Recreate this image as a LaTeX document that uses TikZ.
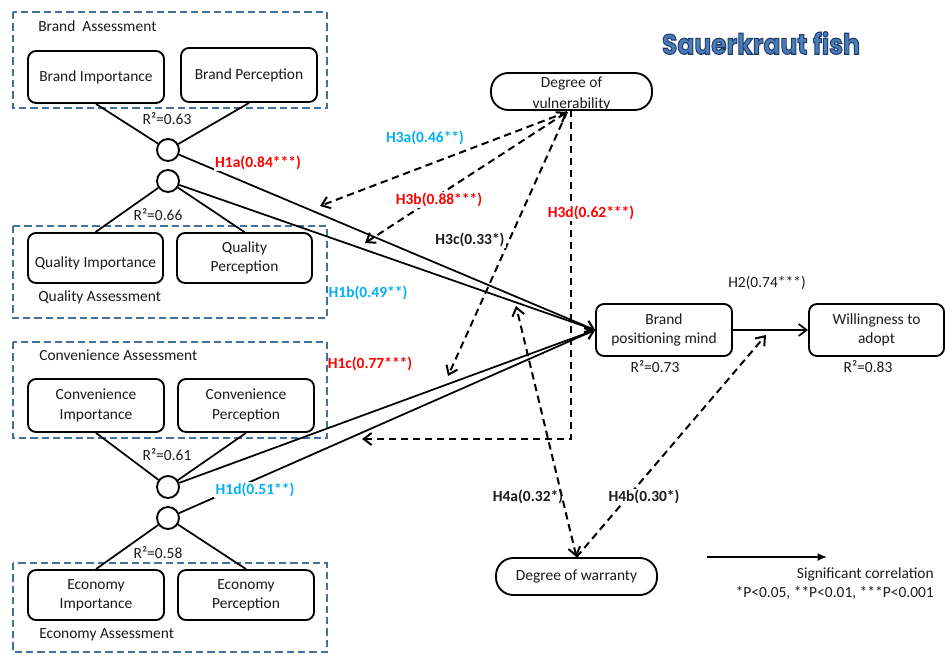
\documentclass[tikz,border=0pt]{standalone}
\usepackage{fontspec}
\setmainfont{Carlito}
\newfontfamily\titlefont{Poppins}
\usetikzlibrary{arrows.meta}
\definecolor{grpblue}{HTML}{41719C}
\definecolor{lblred}{HTML}{FF0000}
\definecolor{lblblue}{HTML}{00B0F0}
\definecolor{txt}{HTML}{1A1A1A}
\definecolor{titleblue}{HTML}{4A7DBA}
\newcommand\outlinedtext[1]{\special{pdf:literal direct 2 Tr 0.45 w 0.12 0.23 0.42 RG}#1\special{pdf:literal direct 0 Tr}}
\begin{document}
\begin{tikzpicture}[x=0.75pt,y=-0.75pt,
  every node/.style={font=\fontsize{11.6}{14.5}\selectfont, text=txt},
  grp/.style={draw=grpblue, line width=1.2pt, dash pattern=on 5.5pt off 3pt},
  bx/.style={draw, line width=1.4pt, rounded corners=6pt, align=center, inner sep=1pt, minimum width=102pt},
  pill/.style={draw, line width=1.4pt, rounded corners=13pt, minimum width=120.75pt, minimum height=27.75pt, inner sep=0pt},
  hub/.style={draw, circle, line width=1.4pt, fill=white, minimum size=16.5pt, inner sep=0pt},
  link/.style={line width=1.3pt},
  sarrow/.style={line width=1.3pt, -{Straight Barb[length=6pt,width=9pt]}},
  darrow/.style={line width=1.5pt, dash pattern=on 5.5pt off 3.5pt, -{Straight Barb[length=6pt,width=9pt]}},
  darrowboth/.style={line width=1.5pt, dash pattern=on 5.5pt off 3.5pt, {Straight Barb[length=6pt,width=9pt]}-{Straight Barb[length=6pt,width=9pt]}},
  gl/.style={anchor=west, inner sep=0pt},
  rl/.style={inner sep=0pt},
  lbl/.style={font=\fontsize{11.6}{14}\selectfont\bfseries, inner sep=1pt},
]
\useasboundingbox (0,0) rectangle (945,655);

% title
\node (title) at (761,43) {\color{titleblue}\resizebox{148.5pt}{17pt}{\titlefont\bfseries\outlinedtext{Sauerkraut fish}}};

% group boxes
\draw[grp] (13,12) rectangle (327,108);
\draw[grp] (13,226) rectangle (327,318);
\draw[grp] (13,342) rectangle (327,438);
\draw[grp] (13,563) rectangle (327,652);

\node[gl] (gbrand) at (38,26) {Brand\ \ Assessment};
\node[gl] (gqual) at (38,297) {Quality Assessment};
\node[gl] (gconv) at (39,355) {Convenience Assessment};
\node[gl] (gecon) at (39,635) {Economy Assessment};

% boxes
\node[bx, minimum height=39pt] (bi) at (96,77) {Brand Importance};
\node[bx, minimum height=40.5pt] (bp) at (249,75) {Brand Perception};
\node[bx, minimum height=37.5pt, minimum width=101.25pt] (qi) at (95.5,258) {\mbox{}\\[1.5pt]Quality Importance};
\node[bx, minimum height=37.5pt, minimum width=101.25pt] (qp) at (244.5,258) {Quality\\Perception};
\node[bx, minimum height=39.75pt] (ci) at (96,405.5) {Convenience\\Importance};
\node[bx, minimum height=39.75pt] (cp) at (246,405.5) {Convenience\\Perception};
\node[bx, minimum height=37.5pt] (ei) at (96,595) {Economy\\Importance};
\node[bx, minimum height=37.5pt] (ep) at (246,595) {Economy\\Perception};
\node[bx, minimum height=39pt] (bpm) at (664,330) {Brand\\positioning mind};
\node[bx, minimum height=39pt, minimum width=101.25pt] (wta) at (876.5,330) {Willingness to\\adopt};

% ovals
\node[align=center, font=\fontsize{11.6}{15.5}\selectfont] (dovtext) at (571.5,94) {Degree of\\vulnerability};
\node[pill] (dov) at (571.5,91.5) {};
\node[pill] (dow) at (576.5,576.5) {Degree of warranty};

% hubs
\node[hub] (c1) at (168,150) {};
\node[hub] (c2) at (168,181) {};
\node[hub] (c3) at (168,487) {};
\node[hub] (c4) at (168,518) {};

\draw[link] (bi.south) -- (c1);
\draw[link] (bp.south) -- (c1);
\draw[link] (qi.north) -- (c2);
\draw[link] (qp.north) -- (c2);
\draw[link] (ci.south) -- (c3);
\draw[link] (cp.south) -- (c3);
\draw[link] (ei.north) -- (c4);
\draw[link] (ep.north) -- (c4);

% R2 labels
\node[rl] (r1) at (167,119) {R²=0.63};
\node[rl] (r2) at (158,215) {R²=0.66};
\node[rl] (r3) at (167,455) {R²=0.61};
\node[rl] (r4) at (158,553) {R²=0.58};
\node[rl] (r5) at (655,367) {R²=0.73};
\node[rl] (r6) at (868,367) {R²=0.83};

% solid paths
\draw[sarrow] (c1) -- (bpm.west);
\draw[sarrow] (c2) -- (bpm.west);
\draw[sarrow] (c3) -- (bpm.west);
\draw[sarrow] (c4) -- (bpm.west);
\draw[sarrow] (bpm.east) -- (wta.west);
\node[rl] (h2) at (767,283) {H2(0.74***)};

% dashed paths
\coordinate (dvb) at (567,112);
\coordinate (dvs) at (571,110);
\coordinate (h3aend) at (320,206);
\coordinate (h3bend) at (365,243);
\coordinate (h3cend) at (448,376);
\coordinate (h3dcorner) at (571,439);
\coordinate (h3dend) at (362,439);
\coordinate (h4aend) at (516,306);
\coordinate (h4bend) at (766,335);

\draw[darrow] (dvb) -- (h3aend);
\draw[darrowboth] (dvb) -- (h3bend);
\draw[darrow] (dvb) -- (h3cend);
\draw[darrow] (dvs) -- (h3dcorner) -- (h3dend);
\draw[darrowboth] (dow.north) -- (h4aend);
\draw[darrow] (dow.north) -- (h4bend);

% hypothesis labels
\node[lbl, text=lblred, fill=white] (h1a) at (258,163) {H1a(0.84***)};
\node[lbl, text=lblblue] (h1b) at (368,293) {H1b(0.49**)};
\node[lbl, text=lblred] (h1c) at (370,364) {H1c(0.77***)};
\node[lbl, text=lblblue, fill=white] (h1d) at (255,490) {H1d(0.51**)};
\node[lbl, text=lblblue, fill=white] (h3a) at (425,138) {H3a(0.46**)};
\node[lbl, text=lblred, fill=white] (h3b) at (439,200) {H3b(0.88***)};
\node[lbl, fill=white] (h3c) at (470,240) {H3c(0.33*)};
\node[lbl, text=lblred, fill=white] (h3d) at (591,213) {H3d(0.62***)};
\node[lbl] (h4a) at (528,497) {H4a(0.32*)};
\node[lbl, fill=white] (h4b) at (644,497) {H4b(0.30*)};

% legend
\coordinate (lgA) at (707,557);
\coordinate (lgB) at (827,557);
\draw[line width=1.3pt, -{Latex[length=7pt,width=6pt]}] (lgA) -- (lgB);
\node[anchor=east, inner sep=0pt] (lg1) at (934,574) {Significant correlation};
\node[anchor=east, inner sep=0pt] (lg2) at (934,593) {*P<0.05, **P<0.01, ***P<0.001};
\end{tikzpicture}
\end{document}
